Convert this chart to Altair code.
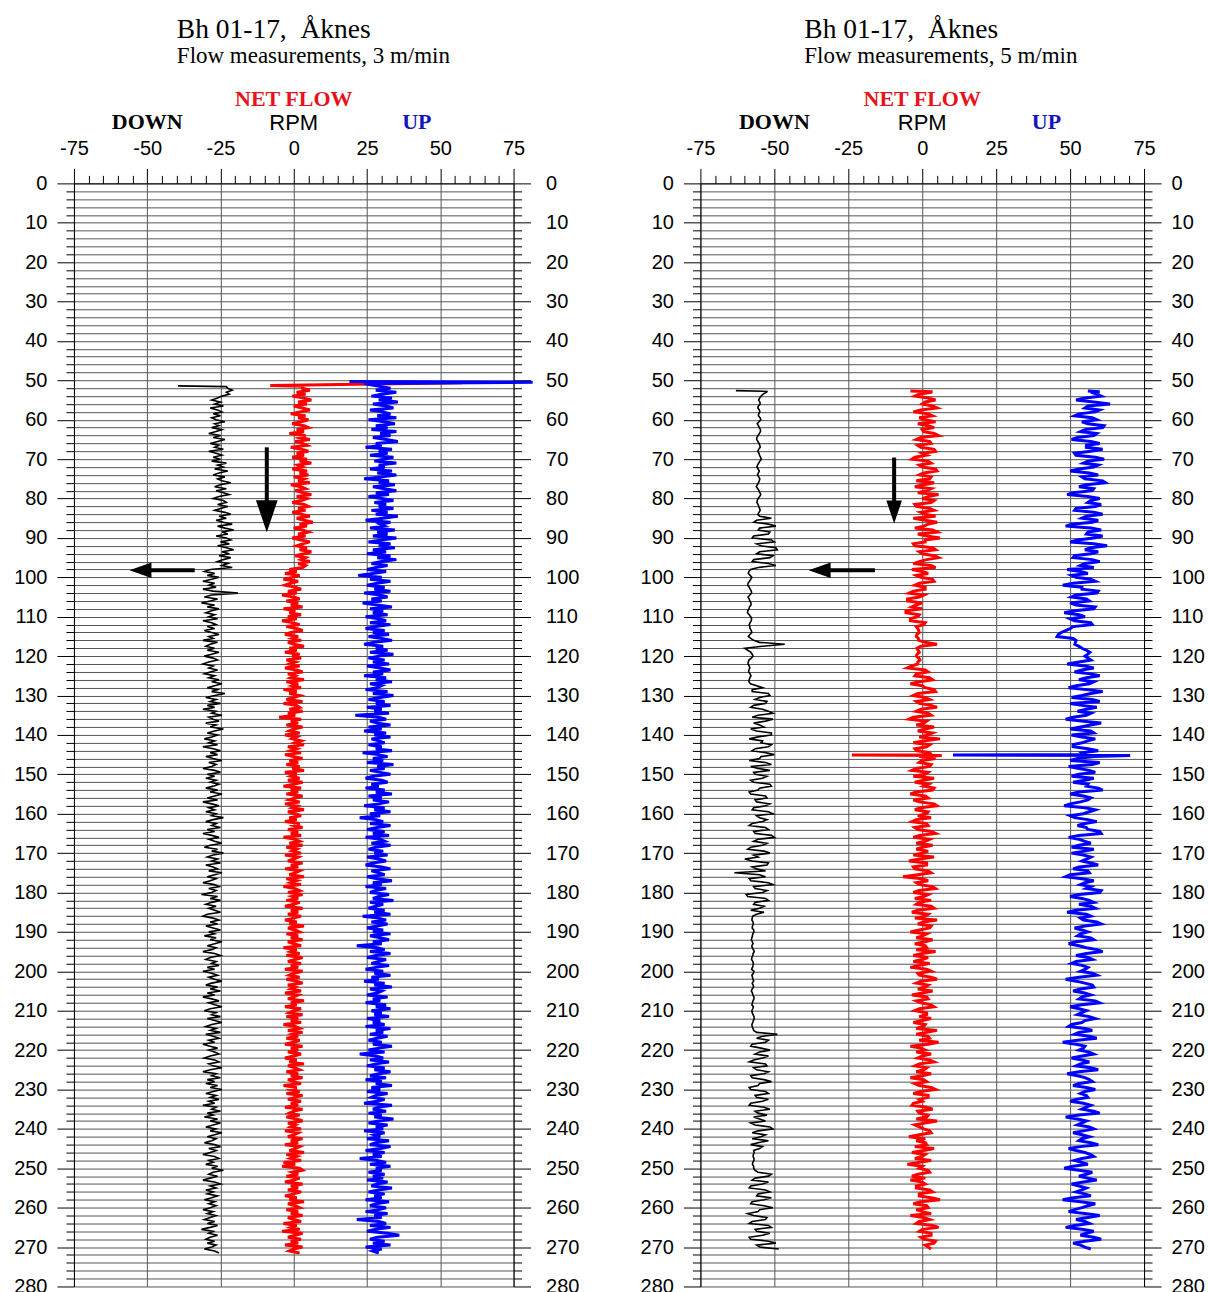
import altair as alt
import pandas as pd

STEP = 0.5  # sampling interval of the logs (m)

# ---------------- left panel (3 m/min), depth 52.0 .. 271.5 m ----------------
L_START = 52.0
L_DOWN = [
    -22.5, -21, -23, -22, -24.5, -26, -28, -25, -27, -24, -28.5, -26, -24.5, -27.5, -25, -28, -26.5, -23.5, -27, -25.5,
    -28, -24.5, -26.5, -29, -25, -27.5, -23.5, -26, -28.5, -25.5, -27, -24, -29, -26.5, -24.5, -27.5, -25, -28, -23, -26,
    -24, -27, -22.5, -25.5, -27.5, -23.5, -26, -24.5, -21.5, -25, -27, -23, -26.5, -24, -22, -25.5, -27.5, -24, -23, -26,
    -22.5, -25, -27, -23.5, -21.5, -25.5, -23, -26.5, -24, -21, -26, -23.5, -20.5, -24.5, -22.5, -26.5, -23, -21.5, -25, -22,
    -26, -23, -20.5, -24.5, -22, -25.5, -21.5, -24, -26, -22.5, -24.5, -21, -28.5, -30.5, -27, -29.5, -25.5, -28, -31, -27,
    -29, -26.5, -31, -27.5, -19, -28, -30.5, -26, -28.5, -31.5, -27, -29.5, -25.5, -28, -30, -27, -29, -26, -31, -28,
    -26.5, -29.5, -27, -30.5, -28, -25.5, -29, -27.5, -31, -26, -28.5, -30, -27, -29.5, -25.5, -28, -30.5, -27.5, -26, -29,
    -31, -27.5, -29, -26, -28.5, -30.5, -27, -29, -25.5, -28, -24.5, -27, -29.5, -26, -28, -23.5, -27, -30, -26.5, -28.5,
    -25, -29.5, -27, -31, -26.5, -28, -24.5, -29, -27.5, -25.5, -30, -26.5, -28.5, -24, -27, -29.5, -26, -28, -30.5, -27,
    -29, -26, -31, -27.5, -25, -28.5, -26, -30, -27.5, -24.5, -29, -26.5, -28, -31, -27, -25, -29.5, -27, -30, -26.5,
    -28.5, -25.5, -27.5, -30, -26, -28.5, -24.5, -27, -29.5, -26, -31, -28, -25.5, -29, -27, -30, -26.5, -28, -24, -27.5,
    -30, -26.5, -28, -25, -29.5, -27, -31, -28, -25.5, -29, -27, -24.5, -28.5, -30.5, -26, -28, -24, -27.5, -29.5, -26,
    -28, -25, -30, -27.5, -26, -29, -24.5, -27, -29.5, -26.5, -28.5, -31, -27, -25.5, -29, -26.5, -28, -31.5, -26, -28.5,
    -25, -28, -30, -26.5, -29, -27, -25, -29.5, -31, -27.5, -25.5, -28.5, -26, -30, -27.5, -25, -29, -27, -30.5, -26.5,
    -28.5, -24.5, -27, -29.5, -26.5, -28, -31, -27, -25, -28.5, -30, -26.5, -28, -25.5, -29.5, -27, -31, -28, -26, -29,
    -27, -24.5, -28, -30, -26, -28.5, -25, -29.5, -27, -31, -28, -25.5, -29, -27, -24.5, -28.5, -30.5, -26.5, -28, -25,
    -29.5, -27, -24.5, -28, -30, -26.5, -28.5, -25, -30, -27.5, -25.5, -29, -27, -31, -28.5, -26, -29, -27, -25.5, -28.5,
    -30.5, -27, -25.5, -29, -27.5, -24.5, -28.5, -31, -26.5, -28, -25, -29.5, -27, -30, -26, -28.5, -24.5, -27.5, -30, -26.5,
    -28.5, -25.5, -29, -27, -31, -26.5, -28, -25, -29.5, -27.5, -30.5, -26, -28.5, -25, -27.5, -30, -26.5, -28.5, -24.5, -27,
    -29.5, -26.5, -28, -30.5, -27, -25, -29, -26.5, -28.5, -31, -27, -25.5, -29, -27.5, -30, -26, -28, -24, -27.5, -29,
    -26, -28.5, -31, -27, -25, -28.5, -26.5, -30, -27.5, -29.5, -26, -28, -30.5, -27, -29, -26.5, -28.5, -31, -27.5, -29.5,
    -26.5, -28.5, -30.5, -27, -29.5, -26, -28.5, -31.5, -27.5, -29, -26, -28.5, -30, -27, -29.5, -26.5, -28, -30.5, -27, -25.5,
]
L_NET = [
    3, 5.5, 1, 4, -0.5, 3.5, 6, 1.5, 4.5, 0, 3, 5.5, 2, -1, 4, 1.5, 5, 2.5, -0.5, 3.5,
    5, 1, 3.5, -1.5, 4, 2, 5.5, 0.5, 3, 4.5, -1, 2.5, 5, 1, 3.5, -0.5, 4.5, 2, 6, 1.5,
    3, -0.5, 4.5, 2, 5, 0, 3.5, 1.5, 5.5, -1, 2.5, 4, 0.5, 3, 6, 1, 4.5, 2.5, -0.5, 3.5,
    5, 1.5, 4, -0.5, 2.5, 5.5, 1, 3.5, 6.5, 2, 4.5, 0, 3, 5, 1.5, 4, -0.5, 2.5, 5.5, 3,
    1, 4.5, 2, 6, 3.5, 0.5, 4, 2.5, 5.5, 1.5, 4, 3, -1.5, 1, -3, 2, -0.5, -3.5, 1.5, -1,
    -3, 0.5, 2.5, -2, 1, -4, 0, 2, -2.5, 1.5, -1, 3, -3.5, 0.5, -1.5, 2.5, -2, 1, -4, -0.5,
    2, -2.5, 1, 3, -1, -3, 1.5, -0.5, 2.5, -2, 0, 3.5, -1.5, 1, -3, 2, -0.5, 2.5, -2.5, 0.5,
    -1.5, 2, -3, 1, 3, -2, 0.5, -1, 3.5, -2.5, 1.5, -0.5, 2.5, -3.5, 1, -1.5, 2, 0, -2.5, 3,
    -3.5, 1, 2, -1.5, 3, -2, 0.5, -5, 2.5, -1, 1.5, -2.5, 3, 0, -1.5, 2, -3, 1, -0.5, 2.5,
    0.5, 3.5, -2, 1, -1, 2.5, -3, 0, 3, -1.5, 1.5, -2.5, 2, -0.5, 3.5, -3, 1, -1, 2, -2,
    3, 0, -3.5, 2.5, -1, 1.5, -2.5, 3, 0.5, -1.5, 2, -3, 1, -0.5, 3.5, -2, 0.5, 2.5, -1.5, 1,
    -3, 2, 0, 3, -2, 1.5, -1, 2.5, -3.5, 0.5, 2, -1.5, 3, -2.5, 1, -0.5, 2.5, -3, 1.5, 0,
    -2, 3, -1, 1.5, -3, 2, 0.5, -1.5, 3.5, -2.5, 1, -1, 2.5, -3.5, 0.5, 2, -2, 3, -0.5, 1.5,
    -2.5, 2, 0, -3, 3, -1, 1.5, -2, 2.5, 0, -3, 1, -1.5, 3.5, -2, 0.5, 2, -2.5, 1.5, -1,
    3, -2, 0, 2.5, -3.5, 1, -1, 2, -2.5, 3, 0.5, -2, 2.5, -1, 1.5, -3, 3, 0, -1.5, 2,
    -2.5, 1, 3, -2, 0.5, -1, 2.5, -3, 1.5, 0, -2, 3.5, -1, 1, -3, 2.5, 0, -1.5, 3, -2.5,
    1.5, -1, 2.5, -3.5, 0.5, 2, -2, 3, -0.5, 1.5, -2.5, 2, 0, -3, 3, -1, 1.5, -2, 2.5, 0,
    -3, 1, -1.5, 3.5, -2, 0.5, 2, -2.5, 1.5, -1, 3, -2, 0, 2.5, -3.5, 1, -1, 2, -2.5, 3,
    0.5, -2, 2.5, -1, 1.5, -3, 3, 0, -1.5, 2, -2.5, 1, 3, -2, 0.5, -1, 2.5, -3, 1.5, 0,
    -2, 3, -1, 1.5, -3, 2, 0.5, -1.5, 3.5, -2.5, 1, -1, 2.5, -3.5, 0.5, -4, 2, 3, -0.5, 1.5,
    -2.5, 2, 0, -3, 3, -1, 1.5, -2, 2.5, 0, -3, 1, -1.5, 3.5, -2, 0.5, 2, -2.5, 1.5, -1,
    3, -2, 0, 2.5, -3.5, 1, -1, 2, -4, 3, 0.5, -2, 2.5, -1, 1.5, -3, 3, 0, -1.5, 2,
]
L_UP = [
    33, 28, 35, 30, 26.5, 33.5, 29, 35.5, 27, 31.5, 34, 26, 30.5, 33, 28.5, 35, 25.5, 31, 34.5, 28,
    32, 26.5, 35, 29.5, 33, 27, 31.5, 35.5, 28, 30, 24.5, 33.5, 29, 32, 26, 34, 30.5, 27.5, 35, 29,
    31, 26, 33.5, 28.5, 35, 30, 24, 32.5, 29, 34.5, 27, 31, 35, 28, 32.5, 25.5, 30, 34, 27.5, 31.5,
    29, 34, 26.5, 32, 28, 35.5, 30.5, 24.5, 33, 29.5, 31, 26, 34.5, 28.5, 32, 27, 35, 30, 25.5, 33,
    29, 34.5, 27, 31.5, 25, 33, 28.5, 35, 30, 26.5, 32, 28, 25, 31.5, 27, 22, 30, 26, 33, 28.5,
    25, 31, 27.5, 33, 24, 29.5, 32, 26.5, 30, 23.5, 28.5, 33.5, 26, 30.5, 27, 32, 24.5, 29, 31.5, 26,
    33, 28, 24.5, 31, 27, 32.5, 25.5, 30, 33.5, 27.5, 24, 30.5, 28, 32, 26, 34, 29, 25.5, 31, 27,
    32.5, 25, 29.5, 33, 27, 30.5, 24, 31.5, 28, 33.5, 26, 30, 28.5, 24.5, 32, 27, 34, 29.5, 25.5, 31,
    28, 33, 25, 30, 27.5, 32.5, 21, 29, 31.5, 26, 28.5, 33, 25.5, 30, 24, 31.5, 27.5, 33, 26.5, 29,
    31, 25.5, 30, 28, 33.5, 23.5, 29, 32, 27, 30.5, 25, 34, 28.5, 31, 26, 29.5, 33, 27, 24.5, 30,
    32, 26.5, 29, 24.5, 31, 28, 33.5, 25.5, 30, 27, 32.5, 29, 24, 31, 27.5, 33, 26, 29.5, 22.5, 28,
    30.5, 26, 33, 28.5, 25, 31, 27, 32.5, 24.5, 29.5, 31, 26.5, 33, 28, 25.5, 30.5, 27.5, 32, 25, 29,
    31.5, 27, 24.5, 30, 33, 26.5, 29, 31, 25, 28.5, 33.5, 27, 30, 24.5, 31.5, 28, 26, 32.5, 29, 27,
    34, 26, 30.5, 28, 25.5, 31, 27.5, 33, 23.5, 29, 31.5, 26.5, 32, 28.5, 25, 30.5, 27, 33, 26, 29.5,
    32.5, 27, 30, 21.5, 28.5, 31, 26, 33, 28, 25, 31.5, 29, 26.5, 32.5, 28, 24.5, 30.5, 27.5, 33, 26.5,
    29, 24, 31, 27.5, 33.5, 26, 30, 28.5, 25, 32, 27, 29.5, 24.5, 31.5, 28, 33, 26.5, 30, 27.5, 32.5,
    25, 29.5, 27, 31, 24.5, 33, 28, 30.5, 26, 32, 28.5, 25.5, 30, 27, 33.5, 29, 25.5, 31, 22.5, 28,
    30.5, 26, 32.5, 28, 25, 31, 27.5, 33, 29, 26, 31.5, 24.5, 30, 28, 33.5, 26.5, 29.5, 25, 32, 28,
    26.5, 31, 28.5, 24, 33.5, 29, 27, 31.5, 25.5, 30, 27.5, 34, 29, 25.5, 32, 28, 30.5, 24, 31, 27.5,
    29.5, 25, 32.5, 28, 26, 33, 29.5, 24.5, 31, 27, 30, 22.5, 28.5, 31.5, 26, 33, 28, 30, 25.5, 31,
    27, 30.5, 25, 32, 28.5, 26.5, 33.5, 29, 25.5, 31, 27.5, 30, 24.5, 32.5, 28, 26, 31.5, 29, 24.5, 32,
    27.5, 30, 21.5, 29, 31.5, 26, 33, 28, 25, 32, 36, 28.5, 26, 31, 27, 33, 24.5, 30, 27, 29,
]
# start-of-log spikes (depth, value)
L_DOWN_HEAD_D = [51.4, 51.6]
L_DOWN_HEAD_V = [-39.5, -23]
L_NET_HEAD_D = [50.4, 50.6, 51.3, 51.5]
L_NET_HEAD_V = [25, 57.5, -8, 3]
L_UP_HEAD_D = [50.3, 50.5, 50.8, 51.6]
L_UP_HEAD_V = [19, 81.5, 24, 30]

# ---------------- right panel (5 m/min), depth 53.0 .. 270.5 m ----------------
R_START = 53.0
R_DOWN = [
    -52.6, -53.8, -54.5, -55, -55.3, -54.9, -54.8, -55.4, -55.6, -55.1, -54.9, -55.3, -55.4, -54.8, -54.6, -55.2, -55.8, -55.4, -55.1, -54.7,
    -54.7, -55.1, -55.5, -55.9, -56, -55.6, -55.2, -54.9, -54.8, -55.3, -55.6, -55.2, -55, -54.7, -54.4, -54.9, -55.3, -55.7, -55.9, -55.5,
    -55.1, -55.4, -55.7, -55.3, -54.9, -55.1, -55.4, -55.8, -56.1, -55.6, -55.2, -54.9, -54.6, -55, -55.5, -55.8, -55.9, -55.5, -55.3, -55,
    -54.8, -55.2, -55.6, -55, -51, -56, -57, -52, -49.5, -55, -55.5, -51.5, -52, -57, -57.5, -51, -50, -56, -54.5, -49.5,
    -49, -55, -56, -50.5, -51.5, -57, -57.5, -52, -49.5, -55.5, -58, -58.6, -58.8, -58.2, -57.6, -58, -58.4, -58.9, -59, -58.5,
    -58.2, -57.8, -57.7, -58.3, -58.9, -58.5, -58.3, -57.9, -57.9, -58.4, -58.6, -59, -59.1, -58.5, -58, -57.7, -57.8, -58.2, -58.5, -58.3,
    -58.2, -57.8, -57.6, -58.3, -58.8, -58, -57, -55, -46.5, -54, -60, -59, -58, -57.5, -57.2, -57.8, -58.6, -58.8, -58.9, -58.5,
    -58.3, -58.6, -58.7, -58.2, -57.9, -58.3, -58.5, -58.6, -58.1, -56, -54, -57.5, -57.5, -52, -51.5, -55, -56.5, -52.5, -53, -57,
    -58, -54, -52, -50.5, -55.5, -57.5, -50.5, -53, -57, -55, -53.5, -58, -56, -51, -51, -55.5, -58.5, -54, -54.5, -51,
    -52, -56.5, -57.5, -53, -50, -54.5, -55, -58.5, -53, -51, -58, -55.5, -51.5, -57, -56.5, -52.5, -54, -58, -57, -51.5,
    -51, -55, -55.5, -58.5, -58, -53, -52.5, -56.5, -56, -51.5, -53, -57, -57.5, -52, -50.5, -56, -55, -52.5, -54, -57.5,
    -58.5, -53, -52, -57, -56.5, -51, -50, -55.5, -57, -52.5, -54, -58, -59, -53.5, -51.5, -57, -55.5, -60, -57.5, -52,
    -52.5, -57.5, -56, -53, -63.5, -55, -53, -58.5, -58, -52, -50.5, -57, -56.5, -52.5, -54, -59.5, -59, -53, -52, -56.5,
    -57, -53.5, -55, -58, -53.5, -56, -57.3, -57.5, -57.6, -57.2, -57.1, -57.4, -57.5, -57, -56.9, -57.3, -57.4, -57.6, -57.8, -57.4,
    -57.2, -57.6, -57.5, -57.1, -56.8, -57.2, -57.3, -57.6, -57.7, -57.3, -57.1, -57.2, -57.4, -57.7, -56.9, -57.1, -57.6, -57.4, -57.2, -57,
    -57.5, -57.2, -57, -57.5, -57.8, -57.4, -57.3, -56.9, -56.9, -57.2, -57.4, -57.6, -57.1, -57.3, -57.6, -57.5, -57.2, -56.9, -56.8, -57.1,
    -57.3, -57.6, -57.5, -57.2, -57, -56, -49, -54, -56, -52, -53, -57.5, -58, -54.5, -51.5, -55, -56.5, -52, -54, -57,
    -58.5, -53, -52.5, -57, -56, -52, -53.5, -58, -57.5, -53.5, -51, -55, -55.5, -58.5, -58, -53, -52, -56.5, -56, -52,
    -54, -58, -58.5, -53.5, -51.5, -56.5, -55.5, -52.5, -57, -55, -53, -58, -56.5, -51.5, -50.5, -55.5, -57.5, -53, -54.5, -57.5,
    -52, -55.5, -58, -54, -55, -57, -56.8, -57.1, -57.2, -56.9, -56.9, -57.3, -57.4, -57, -57, -56.6, -55.5, -51, -52, -56.5,
    -57.5, -52, -54, -58, -58.5, -53, -51.5, -55.5, -56, -51, -53.5, -57.5, -58, -53.5, -50.5, -55, -55.5, -59, -57, -52.5,
    -53, -57.5, -58.5, -52, -51, -56.5, -56, -51.5, -54, -58.5, -58, -52, -49.5, -56, -55, -48.5,
]
R_NET = [
    3, -1, -2.5, 2, 4.5, 1, 0, 3.5, 5, -0.5, -3, 2, 3.5, -1, 1, 4.5, -1.5, 2, 4, 0,
    0.5, 4, 5.5, -0.5, -2, 2.5, 3, -1.5, -0.5, 4, 4.5, 0, 1.5, -2.5, -3.5, 2, 3, -1, 0, 4.5,
    5, 0.5, -1, 3, 2.5, -2, 4, 0.5, -2.5, 3, 1.5, -1.5, 5.5, 2, 0, 4, 3, -2.5, -2, 2.5,
    4, -0.5, 1, 4.5, -3, 1, 5, 2, 0.5, -2.5, 3.5, 5, -1.5, 1.5, 6, 1, 1, -3, -2.5, 3.5,
    4.5, -1, 0, 4, 5.5, 1.5, -1, -3, 3, 4.5, -3.5, 0, 2, -2, -0.5, 3.5, 4, -1, -2.5, 1,
    1, -3, -4.5, 0.5, -1, -5, -5, 0, -2, -3.5, 0, -5.5, -5.5, -1, -1.5, -4, -4, 1, 0.5, -2,
    -1.5, -1.2, -1, -1.8, -2, -1.3, -1.2, 1, 5, -0.5, -1.8, -1.4, -1, -1.7, -2, -1.2, -0.8, -1.5, -1.5, -3.5,
    -5, 1, 2, -2, -2.5, 2.5, 3.5, -1, -4, 0, 1, 4, 4.5, -1.5, -3, 1, 2.5, -2, -1, 3,
    5, -0.5, -2, 2, 3, -3, -4.5, 1.5, 0.5, -2, 4, 1, -1.5, 3.5, 2, -1, 6, 1, -3, 2.5,
    1.5, -2.5, -2, 2.5, 3, -1, 4.5, 0, -1, 3, 2.5, -2, -3.5, 2, 1, -3, 4, 0.5, -2.5, 2,
    0.5, 4, 3.5, -2, -4, 1, 2, -3, -1, 4, 5, -0.5, -2.5, 2, 1.5, -1.5, 3, -2, -3.5, 1.5,
    2, -2.5, -1.5, 3, 4.5, -1, -3, 2.5, 1, -2, 3.5, 0, -2, 2, 0, -3, 4, -1, -4.5, 1.5,
    1.5, -3, -2.5, 2, 3, -1.5, -6.5, 0, 2, -2, -1, 3.5, 4.5, -1, -3, 2, 0.5, -2.5, 3, -1,
    -2, 3, 4, -1.5, -3.5, 2, 1, -2.5, 5, 0.5, -1.5, 3, 2.5, -1, -4, 1.5, 0, -2, 3.5, 1,
    -2.5, 1, 1.5, -2, 4.5, 0, -3, 2, 0, -3, 2.5, -1, -4, 1.5, 3, -1.5, -1, 3, 5, -0.5,
    -2, 2, 1, -1.5, 3.5, 0, -3.5, 1.5, 2, -2, -0.5, 3, 4, -1, -2.5, 1.5, 1.5, -1, 3, 0,
    -3, 1, 0.5, -2, 5, 1.5, -2, 2, 2.5, -1, 5.5, 2, -4, -0.5, 1, -2, 3, 0, -1.5, 2.5,
    4, -1, -2.5, 1.5, 0.5, -2, 3, 0, -4, 0.5, 1.5, -2.5, -1, 3, 4.5, -0.5, -3, 2, 2, -1,
    0, -3, -3.5, 1.5, 3.5, -1.5, -1, 2, 1.5, -2, 5, 1, -2.5, -1, 0.5, 2.5, 3, -1, -4.5, 1,
    -2, 1, 1.5, -2.5, 4, 0.5, -3.5, 1, 0, -2.5, 3, -1, -5, 0, -1, 2, 2.5, -1.5, -3.5, 1,
    -4, 0, 1, -2, -2, 2.5, 3.5, -1, -1, 3, 6, -0.5, -3, 1.5, 2, -2, 0, 3, -4, 0.5,
    2.5, -1, -2, 3.5, 5.5, 0, -1, 3, 3, -0.5, 0.5, 4.5, 4, 1, 2, 3,
]
R_UP = [
    57, 59, 60.5, 55, 52, 58, 63.5, 56, 55, 60, 58.5, 53, 51.5, 57.5, 59, 54, 56, 61.5, 61, 55,
    53.5, 59, 58, 52.5, 50.5, 57, 60, 55.5, 55.5, 61, 57, 51.5, 52, 58.5, 61.5, 56, 54.5, 59.5, 58, 53,
    50, 56.5, 59.5, 54, 55, 61, 62, 55.5, 53, 58, 57.5, 51, 49, 56, 60, 57, 56, 60.5, 58.5, 52,
    51.5, 58, 61, 55.5, 54, 59.5, 57.5, 50.5, 48.5, 57, 60.5, 56, 55.5, 61, 58, 52.5, 50, 58, 62.5, 57,
    55, 59.5, 57, 51.5, 51, 57.5, 60, 55, 53.5, 58, 49, 53.5, 56, 50.5, 52, 57, 58.5, 51, 47.5, 54,
    54, 59.5, 59, 52, 50.5, 55.5, 56.5, 50, 52, 58.5, 58, 51.5, 48, 53, 55, 50, 51.5, 57, 57.5, 51,
    50, 48.5, 47, 46, 45.6, 51, 52, 51.8, 51.6, 53, 54, 55.5, 56.7, 56, 55, 56, 57, 53, 49, 55,
    58, 54, 51.5, 57, 60, 55.5, 53, 58, 56.5, 52, 49.5, 55.5, 61, 57, 54, 50.5, 57.5, 60, 50, 54,
    59, 55.5, 52.5, 57, 55.5, 51, 48.5, 54.5, 60.5, 57, 53.5, 50, 57, 58, 50.5, 54, 58.5, 56, 54, 51,
    51, 56, 59.5, 54, 55, 58, 52.5, 50, 60, 57.5, 49.5, 53, 56.5, 58.5, 53, 50.5, 58, 55, 51, 56,
    55.5, 59.5, 61, 53, 50, 54.5, 57, 56, 53.5, 50, 48, 55, 58.5, 56.5, 54.5, 50, 51.5, 56, 59, 55,
    52.5, 55.5, 56, 60, 60.5, 53, 49.5, 53, 55, 57, 53, 50.5, 58, 55, 50.5, 54.5, 57, 55.5, 54, 57,
    59.5, 53, 51, 56, 56.5, 50, 48.5, 54, 58, 55, 53.5, 57, 55.5, 60.5, 60, 53, 50, 54, 56.5, 58,
    53, 57, 58.5, 52, 49, 55.5, 57, 53.5, 54.5, 59, 60.5, 55, 51.5, 54, 56, 53.5, 52.5, 57, 58, 52,
    49.5, 53, 55.5, 59, 61, 55.5, 52, 56, 57.5, 52, 50.5, 54, 56, 55, 53.5, 57.5, 59, 53, 48.5, 52,
    55, 57.5, 58, 53.5, 51, 55, 57, 54, 53, 58.5, 60, 54, 50, 53, 55.5, 54, 52.5, 56.5, 58.5, 55,
    54, 50.5, 49.5, 55, 57.5, 53, 51.5, 56.5, 59, 52.5, 47.5, 52, 55, 54.5, 53, 56.5, 58, 54, 50.5, 54,
    56.5, 53.5, 52, 57, 59.5, 53, 49, 52.5, 55, 56.5, 57.5, 53, 51, 55.5, 58.5, 55, 53.5, 55.5, 56, 52,
    50, 54.5, 57, 55.5, 54, 58, 60, 53, 48.5, 52.5, 55.5, 54, 52.5, 56.5, 58, 54.5, 51, 54, 56.5, 54,
    53, 57, 59.5, 53.5, 49.5, 52, 55, 57, 58, 54, 51.5, 54, 56, 51, 48, 53, 57.5, 55.5, 53, 56,
    59, 54.5, 50.5, 53, 55.5, 54, 52, 55, 57, 51, 47.5, 53.5, 58.5, 56, 54, 51.5, 49.5, 55, 60, 56,
    52, 55, 56.5, 51.5, 48.5, 54, 58, 55.5, 53.5, 58, 60.5, 55, 51, 53.5, 55, 57,
]
R_DOWN_HEAD_D = [52.6, 52.8]
R_DOWN_HEAD_V = [-63, -52.5]
R_NET_HEAD_D = [52.7, 52.9]
R_NET_HEAD_V = [-4, 3]
R_UP_HEAD_D = [52.7, 52.9]
R_UP_HEAD_V = [56, 60]
R_NET_SPIKE_D = [145.1, 145.2]
R_NET_SPIKE_V = [-23.8, 6.6]
R_UP_SPIKE_D = [145.1, 145.2]
R_UP_SPIKE_V = [10.4, 70.3]

# ---------------- annotations ----------------
DOWN_X = [-50]
RPM_X = [0]
UP_X = [42]
NETFLOW_X = [0]

# arrows: [down arrow, left arrow]   (x in RPM, y in m)
L_SHAFT_X = [-9.2, -33.8]
L_SHAFT_X2 = [-9.2, -50.0]
L_SHAFT_Y = [67.0, 98.2]
L_SHAFT_Y2 = [81.0, 98.2]
L_HEAD_X = [-9.2, -52.3]
L_HEAD_Y = [84.5, 98.2]
R_SHAFT_X = [-9.5, -16.0]
R_SHAFT_X2 = [-9.5, -33.0]
R_SHAFT_Y = [69.6, 98.2]
R_SHAFT_Y2 = [81.5, 98.2]
R_HEAD_X = [-9.5, -34.7]
R_HEAD_Y = [83.4, 98.2]
HEAD_DIR = ["down", "left"]

SERIES = ["DOWN", "NET FLOW", "UP"]
COLORS = ["#000000", "#ff0000", "#0000ff"]
WIDTHS = {"DOWN": 1.6, "NET FLOW": 3.0, "UP": 3.0}
SHAPES = {"down": "M-0.68,-1L0.68,-1L0,1Z", "left": "M1,-0.7L1,0.7L-1,0Z"}

SERIF = "Liberation Serif"
SANS = "Liberation Sans"
GRID = "#555555"


def build_trace(series, start, vals, head_d, head_v, extra_d=(), extra_v=()):
    rows = list(zip(head_d, head_v))
    rows += [(start + STEP * i, v) for i, v in enumerate(vals)]
    rows += list(zip(extra_d, extra_v))
    rows.sort(key=lambda r: r[0])
    return pd.DataFrame({
        "depth": [r[0] for r in rows],
        "value": [r[1] for r in rows],
        "series": series,
        "w": WIDTHS[series],
        "order": list(range(len(rows))),
    })


def panel(traces, shaft, head, down_size, width, height, title, subtitle, dx, right_pad):
    xs = alt.Scale(domain=[-75, 75], nice=False, zero=False)
    ys = alt.Scale(domain=[0, 280], nice=False, zero=False, reverse=True)
    xaxis = alt.Axis(
        orient="top", title=None, values=list(range(-75, 80, 5)),
        labelExpr="datum.value % 25 === 0 ? '' + datum.value : ''",
        tickSize={"condition": {"test": "datum.value % 25 === 0", "value": 15}, "value": 8},
        grid=True, gridColor=GRID, gridWidth=1,
        gridOpacity={"condition": {"test": "datum.value % 25 === 0", "value": 1}, "value": 0},
        domainColor="black", tickColor="black", labelColor="black",
        labelFont=SANS, labelFontSize=20, labelPadding=10,
        labelFlush=False, labelOverlap=False,
    )

    def yaxis(orient, grid, pad):
        return alt.Axis(
            orient=orient, title=None, values=list(range(0, 281, 2)),
            labelExpr="datum.value % 10 === 0 ? '' + datum.value : ''",
            tickSize={"condition": {"test": "datum.value % 10 === 0", "value": 17}, "value": 8},
            grid=grid, gridColor=GRID, gridWidth=1,
            domainColor="black", tickColor="black", labelColor="black",
            labelFont=SANS, labelFontSize=20, labelPadding=pad,
            labelFlush=False, labelOverlap=False,
        )

    df = pd.concat(traces, ignore_index=True)
    lines = alt.Chart(df).mark_line(clip=False).encode(
        x=alt.X("value:Q", scale=xs, axis=xaxis),
        y=alt.Y("depth:Q", scale=ys, axis=yaxis("left", True, 10)),
        color=alt.Color("series:N", scale=alt.Scale(domain=SERIES, range=COLORS), legend=None),
        strokeWidth=alt.StrokeWidth("w:Q", scale=None),
        order="order:Q",
    )
    sdf = pd.DataFrame({"x": shaft[0], "x2": shaft[1], "y": shaft[2], "y2": shaft[3]})
    shafts = alt.Chart(sdf).mark_rule(color="black", strokeWidth=4).encode(
        x=alt.X("x:Q", scale=xs, axis=xaxis), x2="x2:Q",
        y=alt.Y("y:Q", scale=ys, axis=None), y2="y2:Q",
    )
    hdf = pd.DataFrame({
        "x": head[0], "y": head[1],
        "shape": [SHAPES[d] for d in HEAD_DIR],
        "size": [down_size if d == "down" else 484 for d in HEAD_DIR],
    })
    heads = alt.Chart(hdf).mark_point(filled=True, color="black", opacity=1, strokeWidth=0).encode(
        x=alt.X("x:Q", scale=xs, axis=xaxis),
        y=alt.Y("y:Q", scale=ys, axis=None),
        shape=alt.Shape("shape:N", scale=None),
        size=alt.Size("size:Q", scale=None),
    )

    def label(xvals, text, yoff, font, weight, color):
        d = pd.DataFrame({"x": xvals, "t": [text] * len(xvals)})
        return alt.Chart(d).mark_text(
            fontSize=22, font=font, fontWeight=weight, color=color, baseline="middle", align="center"
        ).encode(x=alt.X("x:Q", scale=xs, axis=xaxis), y=alt.value(yoff), text="t:N")

    nf = label(NETFLOW_X, "NET FLOW", -84, SERIF, "bold", "#e5141c")
    dn = label(DOWN_X, "DOWN", -61, SERIF, "bold", "#000000")
    rpm = label(RPM_X, "RPM", -60, SANS, "normal", "#000000")
    up = label(UP_X, "UP", -61, SERIF, "bold", "#1515c0")

    right = alt.Chart(pd.DataFrame({"depth": [0, 280]})).mark_point(opacity=0).encode(
        y=alt.Y("depth:Q", scale=ys, axis=yaxis("right", False, right_pad))
    )
    return alt.layer(lines, shafts, heads, nf, dn, rpm, up, right).resolve_axis(y="independent").properties(
        width=width, height=height,
        title=alt.TitleParams(
            text=title, subtitle=subtitle, anchor="start", frame="group", dx=dx,
            font=SERIF, fontSize=27.5, fontWeight="normal", color="black",
            subtitleFont=SERIF, subtitleFontSize=23, subtitleColor="black",
            subtitlePadding=2, offset=20,
        ),
    )


left_traces = [
    build_trace("DOWN", L_START, L_DOWN, L_DOWN_HEAD_D, L_DOWN_HEAD_V),
    build_trace("NET FLOW", L_START, L_NET, L_NET_HEAD_D, L_NET_HEAD_V),
    build_trace("UP", L_START, L_UP, L_UP_HEAD_D, L_UP_HEAD_V),
]
right_traces = [
    build_trace("DOWN", R_START, R_DOWN, R_DOWN_HEAD_D, R_DOWN_HEAD_V),
    build_trace("NET FLOW", R_START, R_NET, R_NET_HEAD_D, R_NET_HEAD_V, R_NET_SPIKE_D, R_NET_SPIKE_V),
    build_trace("UP", R_START, R_UP, R_UP_HEAD_D, R_UP_HEAD_V, R_UP_SPIKE_D, R_UP_SPIKE_V),
]

left = panel(left_traces, (L_SHAFT_X, L_SHAFT_X2, L_SHAFT_Y, L_SHAFT_Y2), (L_HEAD_X, L_HEAD_Y), 1024,
             440, 1104, "Bh 01-17,\u00a0 Åknes", "Flow measurements, 3 m/min", 103, 15)
right = panel(right_traces, (R_SHAFT_X, R_SHAFT_X2, R_SHAFT_Y, R_SHAFT_Y2), (R_HEAD_X, R_HEAD_Y), 529,
              444, 1104, "Bh 01-17,\u00a0 Åknes", "Flow measurements, 5 m/min", 104, 10)

chart = alt.hconcat(left, right, spacing=60).properties(
    padding={"left": 13, "top": 15, "right": 3, "bottom": 0}
).configure_view(stroke=None)

chart.save("out.html", embed_options={"renderer": "svg", "actions": False})
